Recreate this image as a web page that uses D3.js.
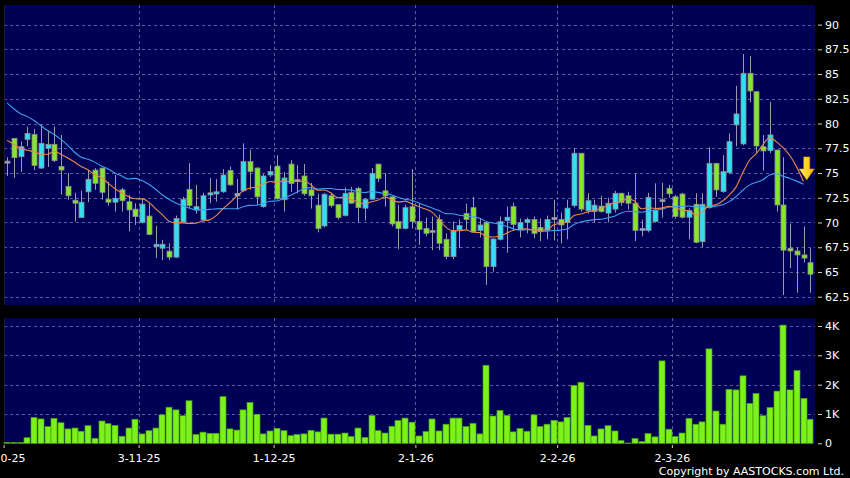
<!DOCTYPE html>
<html><head><meta charset="utf-8">
<script src="https://cdn.jsdelivr.net/npm/d3@7/dist/d3.min.js"></script>
<style>html,body{margin:0;padding:0;background:#000;}svg{display:block;font-family:"DejaVu Sans",Verdana,sans-serif;}</style>
</head><body>
<svg id="chart" width="850" height="478"></svg>
<script>
// ---------- DATA ----------
const openP  = [76.1,78.5,76.65,78.4,78.9,75.5,77.5,77.9,75.65,73.65,
                72.25,70.5,73.1,75.3,75.5,72.35,72.05,73.3,72.1,71.35,
                70.0,70.65,67.56,67.4,67.1,66.5,70.05,73.35,71.27,70.25,
                72.78,72.88,73.1,75.25,72.68,73.2,76.15,75.5,71.6,74.8,
                75.7,72.3,75.9,74.25,74.7,73.3,71.75,69.65,72.7,71.8,
                70.7,73.05,73.45,71.45,72.35,75.9,73.2,72.6,70.1,69.4,
                71.6,70.1,69.4,69.1,70.3,68.3,66.55,69.25,70.9,71.5,
                69.2,70.0,65.54,68.3,70.18,71.6,69.25,70.0,70.3,69.5,
                69.2,70.4,70.3,70.0,71.7,77.0,71.2,71.1,71.65,70.95,
                71.35,72.95,72.7,71.95,69.2,69.2,70.1,72.2,73.45,72.6,
                72.88,70.53,71.84,68.06,71.5,75.98,73.12,75.04,79.86,77.94,
                85.08,83.22,77.66,77.26,77.33,71.77,67.4,67.12,66.72,65.94];
const highP  = [76.6,78.5,78.2,79.7,79.45,79.9,79.25,79.7,78.85,75.0,
                73.0,73.2,75.3,75.5,75.5,74.1,74.8,73.5,72.8,71.95,
                72.45,72.0,69.65,68.25,67.9,70.7,72.6,76.0,73.8,73.0,
                74.5,74.4,75.4,75.65,74.4,78.0,77.35,75.6,74.9,75.8,
                76.8,75.1,76.3,75.8,75.9,74.0,72.9,73.0,73.0,71.8,
                73.55,73.6,73.6,72.45,75.5,75.9,75.0,72.6,71.8,71.8,
                75.4,71.95,70.5,70.6,70.8,68.9,70.1,70.3,71.9,72.6,
                70.4,70.1,68.4,70.6,71.6,72.0,70.4,70.5,70.6,70.4,
                70.7,72.3,71.0,72.3,77.5,77.0,72.95,72.3,72.7,72.5,
                73.2,73.0,73.1,75.0,70.3,73.0,73.96,74.0,73.8,72.8,
                73.0,71.44,72.95,72.95,77.6,76.0,76.8,79.0,83.8,87.03,
                86.83,83.22,78.85,82.2,77.33,76.6,69.9,67.4,69.6,67.4];
const lowP   = [74.7,74.5,75.1,77.7,75.3,75.4,75.6,76.1,72.8,72.3,
                70.1,70.5,72.05,73.3,72.3,71.7,71.1,71.1,69.1,69.75,
                69.9,68.7,66.4,66.2,66.2,66.4,70.0,71.4,70.9,70.1,
                71.95,72.1,73.0,73.7,71.3,73.1,73.3,71.8,71.5,74.6,
                72.3,71.1,73.1,72.95,72.7,71.4,69.0,69.5,71.5,70.3,
                70.6,71.9,70.0,70.2,72.3,74.1,71.6,69.6,67.3,69.3,
                69.4,67.75,68.6,67.2,67.2,66.3,66.3,67.4,69.3,69.0,
                68.5,63.7,65.03,68.2,66.95,69.2,68.5,68.9,68.4,68.1,
                68.3,68.2,67.9,68.3,71.5,71.1,70.9,70.0,71.0,70.0,
                71.0,71.7,71.3,68.1,68.6,69.0,70.0,70.5,72.5,70.4,
                70.4,68.3,67.9,67.5,71.4,72.6,73.0,74.9,77.7,77.8,
                82.15,77.0,75.24,77.0,71.1,62.67,65.4,62.9,65.94,62.9];
const closeP = [76.1,76.55,77.66,79.0,75.75,78.0,77.9,76.25,75.3,72.7,
                71.95,72.05,74.37,73.96,73.05,72.05,72.45,72.2,71.27,70.6,
                71.85,68.8,67.8,67.8,66.5,70.4,72.35,71.7,71.6,72.7,
                73.0,73.1,74.8,73.8,72.94,76.15,75.15,72.6,74.7,75.15,
                72.4,74.5,73.95,74.25,72.9,72.7,69.4,72.85,71.7,70.5,
                72.95,71.95,71.5,72.35,74.97,74.45,72.7,69.85,69.4,71.5,
                70.1,69.3,68.9,69.1,67.9,66.55,69.15,69.7,70.3,69.07,
                69.75,65.54,68.33,70.08,70.53,69.8,70.0,70.3,68.9,69.07,
                70.3,70.4,69.75,71.45,77.0,71.35,72.2,71.75,71.1,71.95,
                72.95,72.0,71.95,69.2,69.4,72.55,71.25,72.2,72.9,70.6,
                70.53,71.2,68.0,71.84,75.98,73.29,75.14,78.17,80.97,85.08,
                83.29,77.73,77.23,78.85,71.77,67.2,67.12,66.72,66.4,64.77];
const volume = [30,30,30,190,880,830,570,850,700,490,
                520,410,600,170,760,670,610,240,520,820,
                320,430,520,970,1230,1140,940,1450,300,380,
                340,340,1590,490,450,1140,1390,990,320,420,
                510,430,260,300,320,440,390,860,310,310,
                350,230,520,200,950,430,350,580,780,860,
                720,250,400,830,420,650,860,860,570,680,
                320,2660,930,1120,950,390,500,410,970,570,
                650,780,730,880,1970,2080,610,250,490,600,
                420,90,10,160,60,330,220,2810,480,230,
                350,850,650,730,3220,1100,650,1840,1820,2300,
                1360,1700,940,1220,1780,4030,1820,2480,1530,820];
// moving averages before enough bars exist in view
const ma10Head = [78.3,77.9,77.5,77.3,77.15,76.9,76.9,77.2,76.9];
const ma20Head = [82.1,81.5,81.0,80.7,80.3,79.8,79.3,78.9,78.4,77.8,
                  77.1,76.6,76.4,76.1,75.7,75.4,75.0,74.7,74.4];
const monthStart  = [0,20,40,61,82,99];
const monthLabels = ["2-10-25","3-11-25","1-12-25","2-1-26","2-2-26","2-3-26"];
const priceTicks  = [62.5,65,67.5,70,72.5,75,77.5,80,82.5,85,87.5,90];
const volTicks    = [0,1000,2000,3000,4000];
const volLabels   = ["0","1K","2K","3K","4K"];

// ---------- DRAW ----------
const svg = d3.select("#chart");
const N = closeP.length;
const C = {bg:"#000000", panel:"#000054", grid:"#5c5c9c", up:"#2ee0f2", down:"#86e62a",
           doji:"#a8a8b0", wick:"#9a9aaa", edge:"#8c8c94", ma10:"#e8894c", ma20:"#3f9ff0",
           vol:"#7cf21c", volEdge:"#4aa012", text:"#ffffff"};
const main = {x0:4, x1:815, y0:5, y1:305};
const volP = {x0:4, x1:815, y0:318, y1:444};

const x = d3.scaleLinear().domain([0, N-1]).range([7, 7 + 6.75*(N-1)]);
const y = d3.scaleLinear().domain([62.5, 90]).range([296.7, 24.6]);
const yv = d3.scaleLinear().domain([0, 4000]).range([443.3, 326]);

svg.append("rect").attr("width",850).attr("height",478).attr("fill",C.bg);
[main, volP].forEach(p => svg.append("rect").attr("x",p.x0).attr("y",p.y0)
   .attr("width",p.x1-p.x0).attr("height",p.y1-p.y0).attr("fill",C.panel));

// grids
svg.append("g").selectAll("line").data(priceTicks).join("line")
  .attr("x1",main.x0).attr("x2",main.x1).attr("y1",d=>Math.round(y(d))+0.5).attr("y2",d=>Math.round(y(d))+0.5)
  .attr("stroke",C.grid).attr("stroke-dasharray","3,3");
svg.append("g").selectAll("line").data(volTicks.slice(1)).join("line")
  .attr("x1",volP.x0).attr("x2",volP.x1).attr("y1",d=>Math.round(yv(d))+0.5).attr("y2",d=>Math.round(yv(d))+0.5)
  .attr("stroke",C.grid).attr("stroke-dasharray","3,3");
const mx = d => Math.round(x(d-0.5)) + 0.5;
[main, volP].forEach(p => {
  svg.append("g").selectAll("line").data(monthStart.slice(1)).join("line")
    .attr("x1",mx).attr("x2",mx).attr("y1",p.y0).attr("y2",p.y1)
    .attr("stroke",C.grid).attr("stroke-dasharray","3,3");
  svg.append("line").attr("x1",4.5).attr("x2",4.5).attr("y1",p.y0).attr("y2",p.y1).attr("stroke","#1a1a3a");
});

// moving averages (the latest bar is not yet included in the lines)
const ma = (n, head) => closeP.map((c,i) => i < n-1 ? head[i] : d3.mean(closeP.slice(i-n+1, i+1)));
const ma10 = ma(10, ma10Head).slice(0, N-1), ma20 = ma(20, ma20Head).slice(0, N-1);
const line = d3.line().x((d,i)=>x(i)).y(d=>y(d)).curve(d3.curveMonotoneX);

// candles
const bars = d3.range(N).map(i => ({i, o:openP[i], h:highP[i], l:lowP[i], c:closeP[i]}));
const gC = svg.append("g");
gC.selectAll("line").data(bars).join("line")
  .attr("x1",d=>Math.round(x(d.i))+0.5).attr("x2",d=>Math.round(x(d.i))+0.5)
  .attr("y1",d=>y(d.h)).attr("y2",d=>y(d.l)).attr("stroke",C.wick).attr("stroke-width",1);
gC.selectAll("rect").data(bars).join("rect")
  .attr("x",d=>Math.round(x(d.i))-2).attr("width",5)
  .attr("y",d=>{const t=y(Math.max(d.o,d.c)), b=y(Math.min(d.o,d.c)); return b-t<2 ? (t+b)/2-1 : t;})
  .attr("height",d=>Math.max(2, y(Math.min(d.o,d.c))-y(Math.max(d.o,d.c))))
  .attr("fill",d=>d.c>d.o?C.up:(d.c<d.o?C.down:C.doji))
  .attr("stroke",d=>d.c===d.o?"#8a8a94":C.edge).attr("stroke-width",0.8);

svg.append("path").datum(ma20).attr("d",line).attr("fill","none").attr("stroke",C.ma20).attr("stroke-width",1.1);
svg.append("path").datum(ma10).attr("d",line).attr("fill","none").attr("stroke",C.ma10).attr("stroke-width",1.1);

// arrow marker
const ax = x(N-1) - 3.5, at = y(74.3);
const arrow = `M${ax-3},${at-23} L${ax+3},${at-23} L${ax+3},${at-11} L${ax+7.5},${at-11} L${ax},${at} L${ax-7.5},${at-11} L${ax-3},${at-11} Z`;
const gr = svg.append("defs").append("linearGradient").attr("id","ag").attr("x1","0").attr("x2","1").attr("y1","0").attr("y2","0");
gr.append("stop").attr("offset","0").attr("stop-color","#fff08a");
gr.append("stop").attr("offset","0.5").attr("stop-color","#ffd42a");
gr.append("stop").attr("offset","1").attr("stop-color","#f2b300");
svg.append("path").attr("d",arrow).attr("fill","url(#ag)").attr("stroke","#d49a00").attr("stroke-width",0.6);

// volume
svg.append("g").selectAll("rect").data(volume).join("rect")
  .attr("x",(d,i)=>Math.round(x(i))-3).attr("width",6)
  .attr("y",d=>yv(d)).attr("height",d=>Math.max(0.5, yv(0)-yv(d)))
  .attr("fill",C.vol).attr("stroke",C.volEdge).attr("stroke-width",0.7);

// right axes
const axP = d3.axisRight(y).tickValues(priceTicks).tickSize(4).tickPadding(3).tickFormat(d=>String(d));
const gAP = svg.append("g").attr("transform","translate(818,0)").call(axP);
const axV = d3.axisRight(yv).tickValues(volTicks).tickSize(4).tickPadding(3).tickFormat((d,i)=>volLabels[i]);
const gAV = svg.append("g").attr("transform","translate(818,0)").call(axV);
[gAP,gAV].forEach(g=>{
  g.select(".domain").remove();
  g.selectAll("line").attr("stroke","#cfcfcf");
  g.selectAll("text").attr("fill",C.text).style("font-size","11px").style("font-family","DejaVu Sans, sans-serif");
});

// bottom axis
const axB = d3.axisBottom(x).tickValues(monthStart.map(d=>d-0.5)).tickSize(3).tickPadding(6)
  .tickFormat((d,i)=>monthLabels[i]);
const gAB = svg.append("g").attr("transform","translate(0,445)").call(axB);
gAB.select(".domain").remove();
gAB.selectAll("line").attr("stroke","#cfcfcf");
gAB.selectAll("text").attr("fill",C.text).style("font-size","11px").style("font-family","DejaVu Sans, sans-serif");

svg.append("text").attr("x",844).attr("y",475).attr("text-anchor","end").attr("fill",C.text)
  .style("font-size","11px").text("Copyright by AASTOCKS.com Ltd.");
</script>
</body></html>
